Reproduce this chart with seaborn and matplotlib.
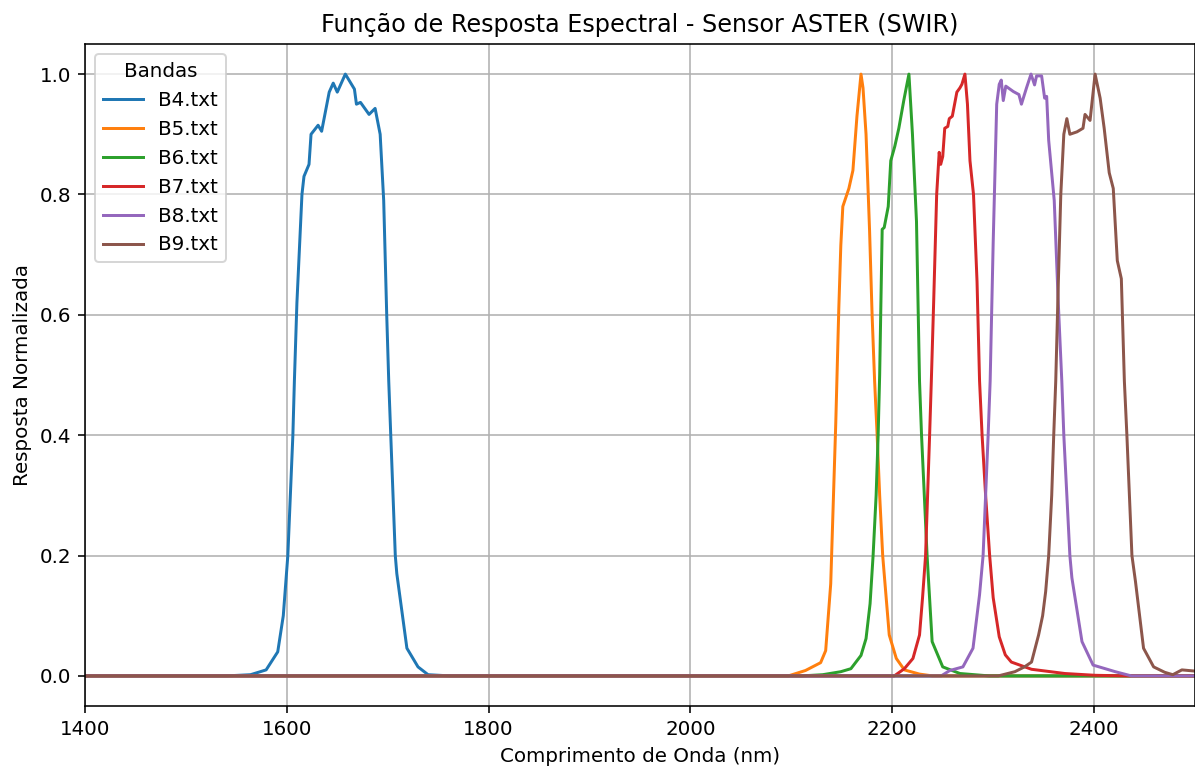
import pandas as pd
import matplotlib
matplotlib.use("Agg")
import matplotlib.pyplot as plt
import seaborn as sns

# Band response curves (wavelength in nm, normalized response)
B4_WL = [1400, 1540, 1564, 1579.5, 1591, 1596.5, 1601, 1606, 1607.5, 1610, 1615, 1617, 1622, 1624,
         1631, 1634.5, 1642, 1646, 1650, 1658, 1667, 1669, 1673, 1681.5, 1687.5, 1692.5, 1696, 1699,
         1701, 1703, 1707.5, 1709, 1719, 1730, 1740, 1762, 2500]
B4_R = [0, 0, 0.002, 0.01, 0.04, 0.1, 0.2, 0.4, 0.49, 0.62, 0.80, 0.83, 0.85, 0.90,
        0.915, 0.905, 0.97, 0.985, 0.97, 1.0, 0.975, 0.95, 0.953, 0.933, 0.943, 0.90, 0.79, 0.6,
        0.49, 0.4, 0.2, 0.17, 0.046, 0.015, 0.002, 0, 0]

B5_WL = [1400, 2097, 2114, 2129, 2134, 2139, 2144, 2147, 2149, 2151, 2157, 2161, 2165, 2169, 2171,
         2174, 2177.5, 2180, 2182.5, 2185, 2187.5, 2190.5, 2197, 2204, 2212, 2227, 2240, 2500]
B5_R = [0, 0, 0.009, 0.022, 0.042, 0.153, 0.42, 0.61, 0.715, 0.78, 0.81, 0.84, 0.93, 1.0, 0.977,
        0.90, 0.74, 0.6, 0.49, 0.4, 0.3, 0.2, 0.068, 0.029, 0.01, 0.003, 0, 0]

B6_WL = [1400, 2110, 2131, 2149, 2159, 2169, 2174, 2178, 2181, 2184, 2186, 2187.5, 2190, 2192, 2196,
         2198.5, 2202.5, 2206.5, 2211.5, 2216.5, 2220, 2224, 2227, 2229, 2234.5, 2239.5, 2250, 2267,
         2296, 2500]
B6_R = [0, 0, 0.002, 0.007, 0.012, 0.034, 0.062, 0.12, 0.2, 0.3, 0.4, 0.5, 0.742, 0.745, 0.78,
        0.856, 0.88, 0.91, 0.957, 1.0, 0.90, 0.755, 0.49, 0.4, 0.2, 0.057, 0.015, 0.004,
        0, 0]

B7_WL = [1400, 2202, 2212, 2220.5, 2227, 2230, 2233, 2237, 2238.7, 2241, 2244, 2246.5, 2248, 2250,
         2252, 2255, 2256.5, 2259.5, 2264, 2267, 2269, 2272, 2274.5, 2277, 2280.5, 2284, 2286.5, 2289,
         2292.5, 2296.5, 2300, 2306, 2312, 2318, 2338, 2371, 2401, 2434, 2500]
B7_R = [0, 0, 0.012, 0.029, 0.068, 0.13, 0.2, 0.4, 0.49, 0.62, 0.80, 0.87, 0.85, 0.863,
        0.91, 0.913, 0.926, 0.93, 0.97, 0.977, 0.983, 1.0, 0.95, 0.856, 0.80, 0.655, 0.49, 0.4,
        0.3, 0.2, 0.13, 0.065, 0.035, 0.023, 0.011, 0.004, 0.001, 0, 0]

B8_WL = [1400, 2248.5, 2257, 2270, 2280, 2286.5, 2290, 2295, 2297, 2300, 2303.5, 2306, 2308, 2310,
         2312.5, 2320, 2325.5, 2328, 2333, 2337.5, 2341, 2343, 2348, 2351, 2353, 2355, 2360.5, 2364.5,
         2368, 2370, 2373, 2376, 2378, 2388, 2399, 2421, 2437, 2500]
B8_R = [0, 0, 0.009, 0.015, 0.046, 0.135, 0.2, 0.4, 0.49, 0.72, 0.95, 0.983, 0.99, 0.956,
        0.98, 0.971, 0.966, 0.95, 0.977, 1.0, 0.982, 0.997, 0.997, 0.96, 0.963, 0.89, 0.79, 0.62,
        0.49, 0.4, 0.3, 0.2, 0.163, 0.057, 0.018, 0.007, 0, 0]

B9_WL = [1400, 2305, 2321.5, 2331, 2338, 2345, 2349, 2352, 2355, 2358, 2360, 2362, 2364.5, 2367,
         2370, 2373, 2376, 2383, 2389, 2391, 2396, 2401, 2406, 2410, 2415, 2419, 2423, 2427, 2430,
         2432.5, 2437.5, 2441, 2449, 2459, 2470, 2478, 2487, 2500]
B9_R = [0, 0, 0.007, 0.015, 0.023, 0.068, 0.1, 0.14, 0.2, 0.3, 0.4, 0.49, 0.65, 0.80,
        0.90, 0.926, 0.90, 0.904, 0.91, 0.933, 0.923, 1.0, 0.96, 0.91, 0.836, 0.81, 0.69, 0.66, 0.49,
        0.4, 0.2, 0.157, 0.046, 0.015, 0.006, 0.002, 0.01, 0.008]

BANDS = ["B4.txt", "B5.txt", "B6.txt", "B7.txt", "B8.txt", "B9.txt"]
CURVES = [(B4_WL, B4_R), (B5_WL, B5_R), (B6_WL, B6_R), (B7_WL, B7_R), (B8_WL, B8_R), (B9_WL, B9_R)]

# Long table for seaborn
frames = []
for band, (wl, r) in zip(BANDS, CURVES):
    frames.append(pd.DataFrame({"wavelength": wl, "response": r, "Bandas": band}))
df = pd.concat(frames, ignore_index=True)

DPI = 143
fig = plt.figure(figsize=(1195 / DPI, 767 / DPI), dpi=DPI)
ax = fig.add_axes([85 / 1195, 1 - 706 / 767, 1 - 85 / 1195, (706 - 44) / 767])

sns.lineplot(data=df, x="wavelength", y="response", hue="Bandas", hue_order=BANDS,
             palette="tab10", estimator=None, linewidth=1.5, ax=ax)

ax.set_xlim(1400, 2500)
ax.set_ylim(-0.05, 1.05)
ax.set_title("Função de Resposta Espectral - Sensor ASTER (SWIR)", fontsize=12)
ax.set_xlabel("Comprimento de Onda (nm)")
ax.set_ylabel("Resposta Normalizada")
ax.grid(True)
ax.legend(title="Bandas", loc="upper left")

fig.savefig("out.png", dpi=DPI)
